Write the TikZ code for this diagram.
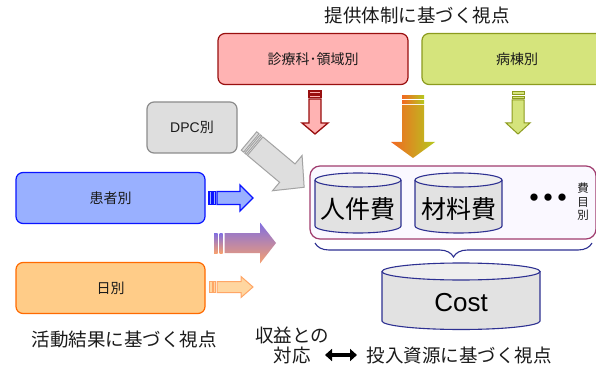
\documentclass[tikz,border=0pt]{standalone}
\usepackage{fontspec}
\setmainfont{Liberation Sans}
\newfontfamily\jp{Noto Sans CJK JP}
\usetikzlibrary{decorations.pathreplacing,arrows.meta}
\definecolor{pinkF}{HTML}{FFB3B3}
\definecolor{pinkL}{HTML}{990F0F}
\definecolor{greenF}{HTML}{D5E47C}
\definecolor{greenL}{HTML}{8C9B1E}
\definecolor{grayF}{HTML}{DEDEDE}
\definecolor{grayL}{HTML}{8C8C8C}
\definecolor{blueF}{HTML}{99B0FF}
\definecolor{blueL}{HTML}{0A14FF}
\definecolor{orF}{HTML}{FFCC88}
\definecolor{orL}{HTML}{FF6A00}
\definecolor{contL}{HTML}{A03C6E}
\definecolor{contF}{HTML}{FAF8FF}
\definecolor{navy}{HTML}{2E3192}
\definecolor{cylF}{HTML}{E2E2E2}
\definecolor{cylT}{HTML}{EEEEEE}
\definecolor{txt}{HTML}{1A1A1A}
% block arrow: #1 position, #2 angle, #3 length, #4 body half, #5 head half, #6 head length, #7 style
\newcommand\blkarrow[7]{%
\begin{scope}[shift={#1}, rotate=#2]
 \path[#7] (0,-#4) rectangle (3,#4);
 \path[#7] (4.5,-#4) rectangle (6.5,#4);
 \path[#7] (8,-#4) -- (#3-#6,-#4) -- (#3-#6,-#5) -- (#3,0) -- (#3-#6,#5) -- (#3-#6,#4) -- (8,#4) -- cycle;
\end{scope}}
% cylinder: #1 x left, #2 x right, #3 y top, #4 y bottom, #5 ry
\newcommand\mycyl[5]{%
\path[fill=cylF] (#1,#3) -- (#1,#4) arc[start angle=180,end angle=0,x radius={(#2-#1)/2},y radius=#5] -- (#2,#3) -- cycle;
\draw[navy, line width=1.1pt] (#1,#3) -- (#1,#4) arc[start angle=180,end angle=0,x radius={(#2-#1)/2},y radius=#5] -- (#2,#3);
\draw[navy, line width=1.1pt, fill=cylT] ({(#1+#2)/2},#3) ellipse[x radius={(#2-#1)/2},y radius=#5];}
\begin{document}
\begin{tikzpicture}[x=1pt,y=-1pt,
  rbox/.style={rounded corners=7pt, line width=1.2pt, minimum height=51pt, inner sep=0pt, text=txt, font=\jp\fontsize{14}{16}\selectfont},
  lbl/.style={text=txt, inner sep=0pt, font=\jp\fontsize{18.5}{20}\selectfont},
  big/.style={text=black, inner sep=0pt, font=\jp\fontsize{25}{27}\selectfont}]
\clip (0,0) rectangle (596,366);
\fill[white] (0,0) rectangle (596,366);

% title
\node[lbl] (t1) at (417,15) {提供体制に基づく視点};

% boxes
\node[rbox, draw=pinkL, fill=pinkF, minimum width=190pt] (shin) at (313,59) {診療科･領域別};
\node[rbox, draw=greenL, fill=greenF, minimum width=190pt] (byo) at (517,59) {病棟別};
\node[rbox, draw=grayL, fill=grayF, minimum width=90pt] (dpc) at (192,127.5) {\fontspec{Liberation Sans}DPC\jp 別};
\node[rbox, draw=blueL, fill=blueF, minimum width=189pt] (kan) at (110.5,198) {患者別};
\node[rbox, draw=orL, fill=orF, minimum width=189pt] (hi) at (110.5,288) {日別};

% container
\node[draw=contL, fill=contF, line width=1.2pt, rounded corners=10pt, minimum width=286pt, minimum height=73pt, inner sep=0pt] (grp) at (453,202.5) {};

% cylinders
\mycyl{315}{401}{180}{226}{7}
\node[big] (jin) at (358,209) {人件費};
\mycyl{415}{502}{180}{226}{7}
\node[big] (zai) at (458.5,209) {材料費};
\node[inner sep=0pt, font=\jp\bfseries\fontsize{26}{28}\selectfont] (dots) at (548,201) {・\kern-12pt・\kern-12pt・};
\node[inner sep=0pt, text=txt, font=\jp\fontsize{11.5}{13.5}\selectfont, align=center] (himoku) at (583,202) {費\\目\\別};

% brace
\draw[navy, line width=1.1pt, decorate, decoration={brace, amplitude=14pt, mirror}] (315,243) -- (592,243);

% Cost cylinder
\mycyl{382}{540}{271.5}{321}{8.5}
\node[inner sep=0pt, font=\fontsize{26}{28}\selectfont] (cost) at (461,303) {Cost};

% horizontal arrows
\blkarrow{(209,198)}{0}{44}{6.5}{13}{13}{fill=blueF, draw=blueL, line width=1.3pt}
\blkarrow{(209,287)}{0}{44}{5.5}{10.5}{12}{fill=orF!80!white, draw=orL!60!white, line width=1pt}
% middle gradient arrow
\path[top color={rgb,255:red,128;green,110;blue,225}, bottom color={rgb,255:red,246;green,160;blue,112}] (214,233) rectangle (217.5,253);
\path[top color={rgb,255:red,128;green,110;blue,225}, bottom color={rgb,255:red,246;green,160;blue,112}] (219.5,233) rectangle (222.5,253);
\path[top color={rgb,255:red,128;green,110;blue,225}, bottom color={rgb,255:red,246;green,160;blue,112}] (224.5,233) -- (260,233) -- (260,222.5) -- (276,243) -- (260,263.5) -- (260,253) -- (224.5,253) -- cycle;

% DPC arrow
\blkarrow{(249,141)}{-40}{72}{12}{23}{22}{fill=grayF, draw=grayL!80!white, line width=1pt}

% vertical arrows
\blkarrow{(315,91)}{-90}{43}{6}{13}{11}{fill=pinkF, draw=pinkL, line width=1.3pt}
\blkarrow{(518,92)}{-90}{42}{6}{12}{11}{fill=greenF, draw=greenL, line width=1pt}
\path[left color={rgb,255:red,242;green,104;blue,34}, right color={rgb,255:red,181;green,200;blue,30}] (402,96) rectangle (424,98.5);
\path[left color={rgb,255:red,242;green,104;blue,34}, right color={rgb,255:red,181;green,200;blue,30}] (402,100.5) rectangle (424,103.5);
\path[left color={rgb,255:red,242;green,104;blue,34}, right color={rgb,255:red,181;green,200;blue,30}] (402,105) -- (402,142) -- (391,142) -- (413,158) -- (435,142) -- (424,142) -- (424,105) -- cycle;

% bottom labels
\node[lbl] (act) at (124,340) {活動結果に基づく視点};
\node[lbl] (rev1) at (292,335) {収益との};
\node[lbl] (rev2) at (292,355.5) {対応};
\node[lbl] (inp) at (459,355) {投入資源に基づく視点};
\coordinate (da) at (325,355);
\coordinate (db) at (357,355);
\draw[line width=3.5pt, {Triangle[length=7pt,width=12pt]}-{Triangle[length=7pt,width=12pt]}] (da) -- (db);
\end{tikzpicture}
\end{document}
